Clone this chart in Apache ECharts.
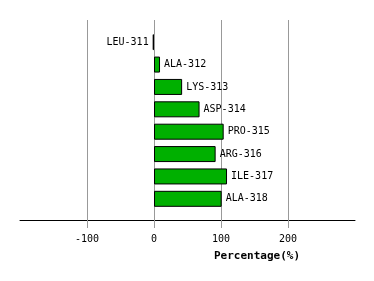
<!DOCTYPE html>
<html>
<head>
<meta charset="utf-8">
<script src="https://cdn.jsdelivr.net/npm/echarts@6/dist/echarts.min.js"></script>
<style>
  html, body { margin: 0; padding: 0; background: #fff; }
  #main { width: 374px; height: 281px; }
</style>
</head>
<body>
<div id="main"></div>
<script>
// residues, top to bottom
var residues = ["LEU-311", "ALA-312", "LYS-313", "ASP-314", "PRO-315", "ARG-316", "ILE-317", "ALA-318"];
var percentages = [-2, 9, 42, 68, 104, 92, 109, 101];
var tickValues = [-100, 0, 100, 200];

(function () {
  var myChart = echarts.init(document.getElementById("main"));
  var font = "DejaVu Sans Mono";

  var barData = percentages.map(function (v) {
    return {
      value: v,
      label: { position: v < 0 ? "left" : "right" }
    };
  });

  var option = {
    animation: false,
    title: {
      text: "Percentage(%)",
      left: 209,
      top: 246,
      textStyle: { fontFamily: font, fontSize: 11, fontWeight: "bold", color: "#000" }
    },
    grid: [
      // axis + grid lines
      { left: 20, right: 19, top: 20, bottom: 61 },
      // bars
      { left: 20, right: 19, top: 31, bottom: 71 }
    ],
    xAxis: [
      {
        gridIndex: 0,
        type: "value",
        min: -200,
        max: 300,
        interval: 100,
        axisLine: { show: true, lineStyle: { color: "#000", width: 1 } },
        axisTick: { show: true, length: 8, customValues: tickValues, lineStyle: { color: "#999" } },
        axisLabel: {
          customValues: tickValues,
          color: "#000",
          fontFamily: font,
          fontSize: 10,
          margin: 14
        },
        splitLine: { show: true, lineStyle: { color: "#999", width: 1 } }
      },
      {
        gridIndex: 1,
        type: "value",
        min: -200,
        max: 300,
        show: false
      }
    ],
    yAxis: [
      { gridIndex: 0, type: "value", show: false, splitLine: { show: false } },
      {
        gridIndex: 1,
        type: "category",
        data: residues,
        inverse: true,
        show: false
      }
    ],
    series: [
      {
        type: "bar",
        xAxisIndex: 1,
        yAxisIndex: 1,
        barWidth: 16,
        data: barData,
        itemStyle: { color: "#00b000", borderColor: "#000", borderWidth: 1 },
        label: {
          show: true,
          formatter: function (p) { return residues[p.dataIndex]; },
          color: "#000",
          fontFamily: font,
          fontSize: 10,
          distance: 4
        }
      }
    ]
  };

  myChart.setOption(option);

  window.addEventListener("resize", function () {
    myChart.resize();
  });
})();
</script>
</body>
</html>
